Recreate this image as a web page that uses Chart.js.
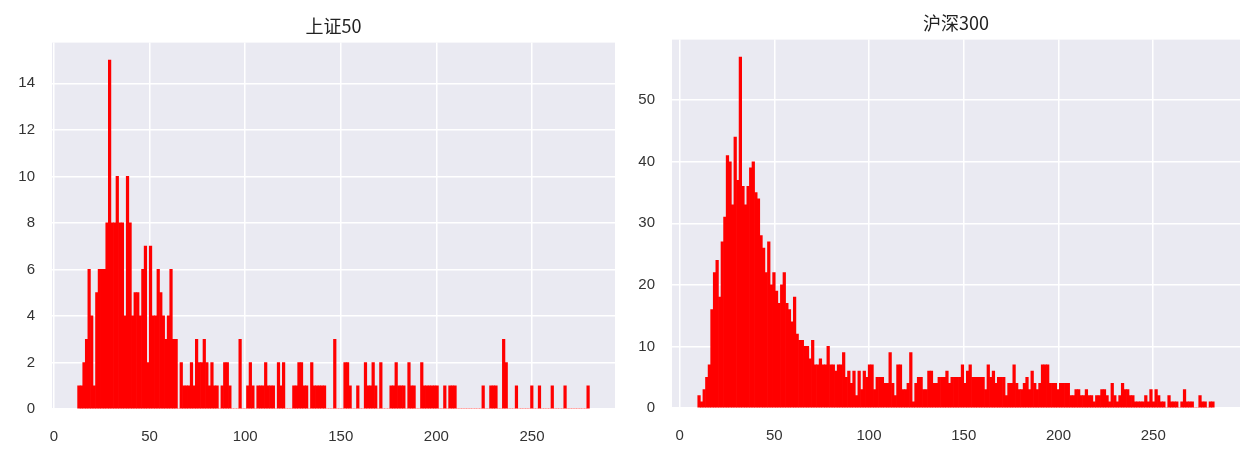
<!DOCTYPE html>
<html>
<head>
<meta charset="utf-8">
<title>上证50 / 沪深300</title>
<script src="https://cdn.jsdelivr.net/npm/chart.js@4.4.1/dist/chart.umd.min.js"></script>
<style>
  html, body { margin:0; padding:0; background:#fff; }
  #wrap { position:relative; width:1251px; height:453px; }
  canvas { position:absolute; top:0; }
  #cLeft { left:0; }
  #cRight { left:625px; }
</style>
</head>
<body>
<div id="wrap">
  <canvas id="cLeft" width="625" height="453"></canvas>
  <canvas id="cRight" width="626" height="453"></canvas>
</div>
<script>
// 上证50: 200 bins from 12.4, counts
const sz50Start = 12.4;
const sz50Width = 1.338;
const sz50Counts = [
  1,1,2,3,6,4,1,5,6,6,
  6,8,15,8,8,10,8,8,4,10,
  8,4,5,5,4,6,7,2,7,4,
  4,6,5,4,3,4,6,3,3,0,
  2,1,1,1,2,1,3,2,2,3,
  2,1,2,1,1,0,1,2,2,1,
  0,0,0,3,0,0,1,2,1,0,
  1,1,1,2,1,1,1,0,2,1,
  2,0,0,0,1,1,2,2,1,1,
  0,2,1,1,1,1,1,0,0,0,
  3,0,0,0,2,2,1,0,0,1,
  0,0,2,1,1,2,1,0,2,0,
  0,0,1,1,2,1,1,1,0,2,
  1,1,0,0,2,1,1,1,1,1,
  1,0,0,1,0,1,1,1,0,0,
  0,0,0,0,0,0,0,0,1,0,
  0,1,1,1,0,0,3,2,0,0,
  0,1,0,0,0,0,0,1,0,0,
  1,0,0,0,0,1,0,0,0,0,
  1,0,0,0,0,0,0,0,0,1
];

// 沪深300: 200 bins from 9.6
const hs300Start = 9.6;
const hs300Width = 1.363;
const hs300Counts = [
  2,1,3,5,7,16,22,24,18,27,
  31,41,40,33,44,37,57,36,33,36,
  39,40,35,34,28,26,22,27,20,22,
  19,17,20,22,17,16,14,18,12,11,
  11,10,10,8,11,7,7,8,7,7,
  10,7,7,6,7,7,9,5,6,4,
  6,2,6,3,6,5,7,7,3,5,
  5,5,4,4,9,4,2,7,7,3,
  3,4,9,1,4,5,5,3,3,6,
  6,4,4,5,5,5,6,4,5,5,
  5,5,7,4,6,7,5,5,5,5,
  5,3,7,5,6,4,5,5,5,2,
  4,4,7,4,3,3,4,5,3,6,
  4,3,4,7,7,7,4,4,4,3,
  4,4,4,4,2,2,3,3,2,2,
  3,2,2,1,2,2,3,3,2,1,
  4,2,1,2,4,3,3,2,2,1,
  1,1,1,2,1,3,1,3,2,1,
  1,0,2,1,1,1,0,1,3,1,
  1,1,0,0,2,1,1,0,1,1
];

const xTicks = [0, 50, 100, 150, 200, 250];
const sz50YTicks = [0, 2, 4, 6, 8, 10, 12, 14];
const hs300YTicks = [0, 10, 20, 30, 40, 50];

const $ = (id) => document.getElementById(id);

const plotBg = {
  id: "plotBg",
  beforeDraw(chart){
    const { ctx, chartArea: a } = chart;
    ctx.save();
    ctx.fillStyle = "#eaeaf2";
    ctx.fillRect(a.left, a.top, a.width, a.height);
    ctx.restore();
  }
};

function binPoints(start, width, counts){
  return counts.map((c, i) => ({ x: start + width * (i + 0.5), y: c }));
}

function makeHist(cfg){
  const tickFont = { family: "'Liberation Sans', Arial, sans-serif", size: 15 };
  return new Chart($(cfg.id), {
    type: "bar",
    data: {
      datasets: [{
        data: binPoints(cfg.start, cfg.width, cfg.counts),
        backgroundColor: "#ff0000",
        borderWidth: 0,
        barPercentage: 1,
        categoryPercentage: 1
      }]
    },
    options: {
      responsive: false,
      animation: false,
      layout: { padding: { left: 0, right: cfg.padRight, top: 0, bottom: 0 } },
      plugins: {
        legend: { display: false },
        tooltip: { enabled: false },
        title: {
          display: true,
          text: cfg.title,
          fullSize: false,
          color: "#222",
          font: { family: "'Noto Sans CJK SC', sans-serif", size: 18, weight: "normal" },
          padding: { top: cfg.titleTop, bottom: cfg.titleBottom }
        }
      },
      scales: {
        x: {
          type: "linear",
          min: cfg.xMin,
          max: cfg.xMax,
          offset: false,
          grid: { color: "#ffffff", lineWidth: 1.5, drawTicks: false, offset: false },
          border: { display: false },
          ticks: { color: "#333", font: tickFont, padding: 19 },
          afterBuildTicks: (s) => { s.ticks = xTicks.map(v => ({ value: v })); },
          afterFit: (s) => { s.height = cfg.xAxisH; }
        },
        y: {
          min: 0,
          max: cfg.yMax,
          grid: { color: "#ffffff", lineWidth: 1.5, drawTicks: false },
          border: { display: false },
          ticks: { color: "#333", font: tickFont, padding: 17 },
          afterBuildTicks: (s) => { s.ticks = cfg.yTicks.map(v => ({ value: v })); },
          afterFit: (s) => { s.width = cfg.yAxisW; }
        }
      }
    },
    plugins: [plotBg]
  });
}

makeHist({
  id: "cLeft", title: "上证50",
  start: sz50Start, width: sz50Width, counts: sz50Counts,
  xMin: -1, xMax: 293.4, yMax: 15.75, yTicks: sz50YTicks,
  yAxisW: 52, xAxisH: 44, padRight: 10, titleTop: 15, titleBottom: 6
});

makeHist({
  id: "cRight", title: "沪深300",
  start: hs300Start, width: hs300Width, counts: hs300Counts,
  xMin: -4, xMax: 295.8, yMax: 59.85, yTicks: hs300YTicks,
  yAxisW: 47, xAxisH: 45, padRight: 11, titleTop: 12, titleBottom: 6
});
</script>
</body>
</html>
